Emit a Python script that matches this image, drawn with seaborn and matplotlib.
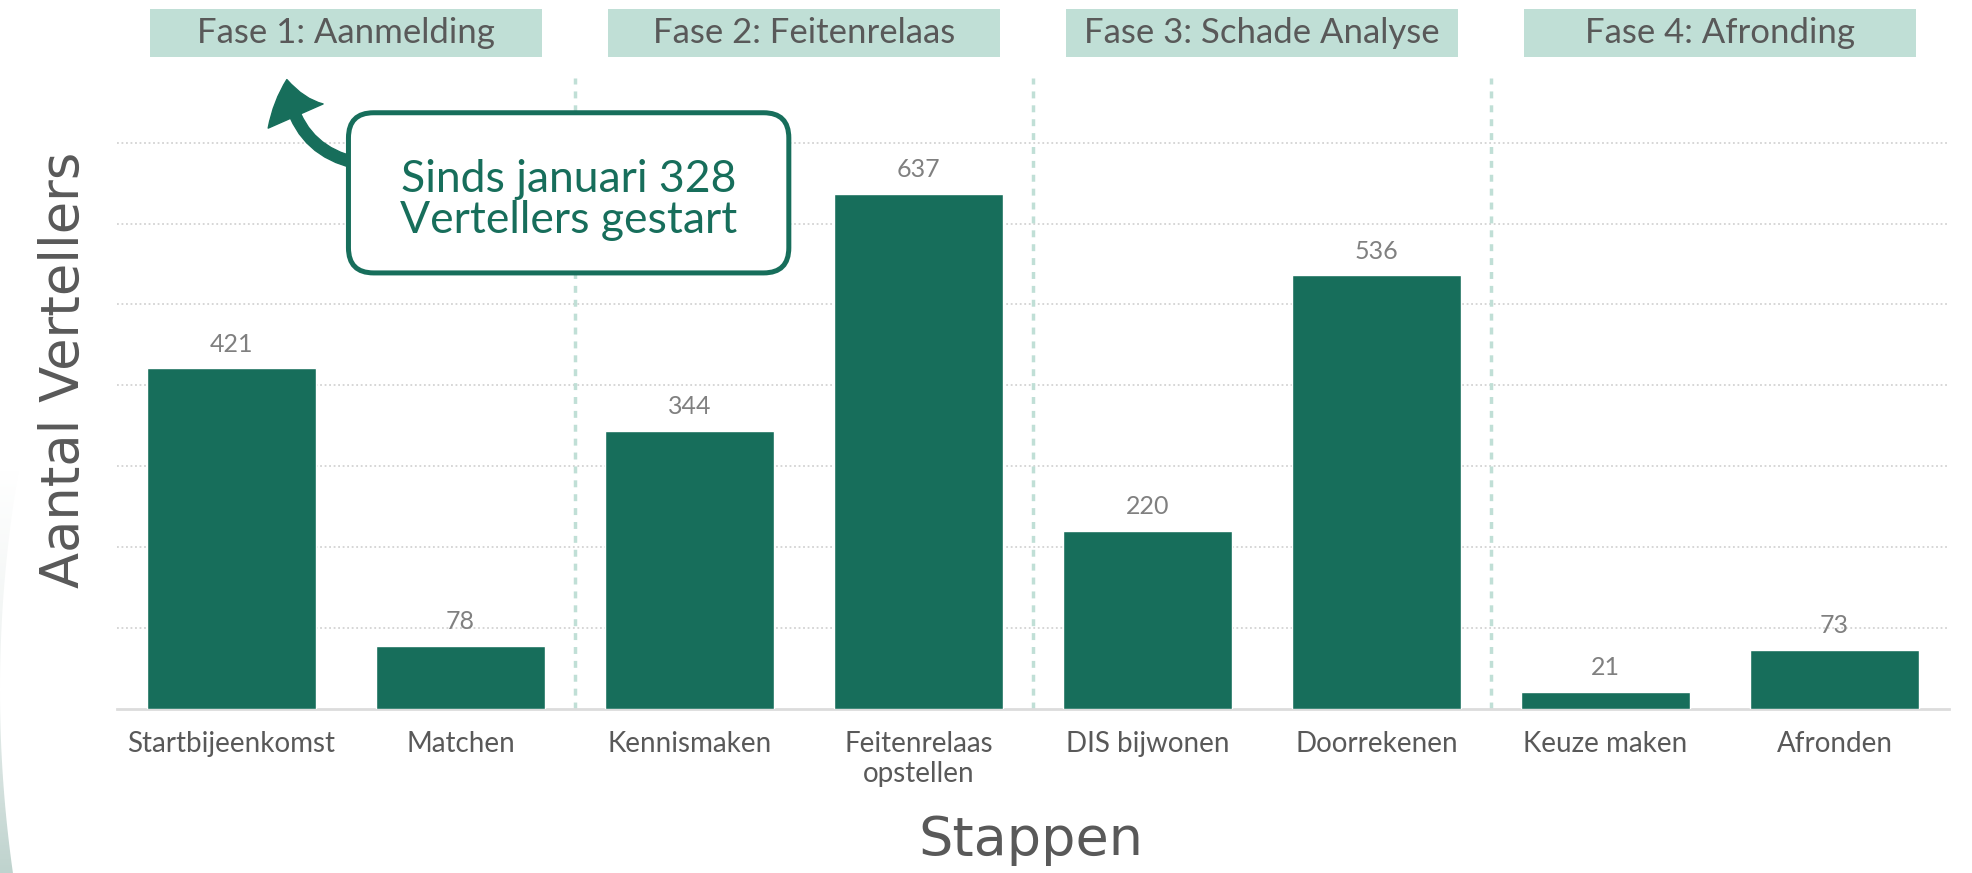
import numpy as np
import pandas as pd
import matplotlib
matplotlib.use('Agg')
import matplotlib.pyplot as plt
import seaborn as sns
from matplotlib.colors import LinearSegmentedColormap
from matplotlib.patches import FancyBboxPatch, FancyArrowPatch, Rectangle, Polygon

# data
stappen = ['Startbijeenkomst', 'Matchen', 'Kennismaken', 'Feitenrelaas\nopstellen',
           'DIS bijwonen', 'Doorrekenen', 'Keuze maken', 'Afronden']
aantal = [421, 78, 344, 637, 220, 536, 21, 73]
fases = ['Fase 1: Aanmelding', 'Fase 2: Feitenrelaas', 'Fase 3: Schade Analyse', 'Fase 4: Afronding']
stappen_per_fase = 2
y_ticks = [100, 200, 300, 400, 500, 600, 700]
opmerking = 'Sinds januari 328\nVertellers gestart'

groen = '#176e5b'
lichtgroen = '#c0dfd6'
grijs = '#595959'

sns.set_style('white')
plt.rcParams['font.family'] = ['Lato', 'DejaVu Sans']

df = pd.DataFrame({'stap': stappen, 'aantal': aantal})

fig = plt.figure(figsize=(19.72, 8.73), dpi=100)

# faint slide background arc at the left edge (pixel coordinates)
bg = fig.add_axes([0, 0, 1, 1], zorder=-1)
bg.set_xlim(0, 1972)
bg.set_ylim(873, 0)
bg.axis('off')
yy = np.linspace(470, 873, 80)
R, cy = 1300, 690
xx = R - np.sqrt(R**2 - (yy - cy)**2)
rand = Polygon(np.vstack([np.column_stack([xx, yy]), [[0, 873], [0, 470]]]), closed=True,
               fc='none', ec='none', transform=bg.transData)
bg.add_patch(rand)
cmap = LinearSegmentedColormap.from_list('bg', ['#ffffff', '#eef2f1', '#bfd3ce'])
img = bg.imshow(np.linspace(0, 1, 200).reshape(-1, 1), cmap=cmap, aspect='auto',
                extent=[0, 40, 873, 470])
img.set_clip_path(rand)

ax = fig.add_axes([0.0593, 0.1879, 0.9290, 0.7228])
sns.barplot(data=df, x='stap', y='aantal', color=groen, saturation=1, width=0.74, ax=ax, zorder=3)
ax.bar_label(ax.containers[0], padding=9, color='#808080', fontsize=18)

ax.set_xlim(-0.5, len(stappen) - 0.5)
ax.set_ylim(0, 780)
ax.set_yticks(y_ticks)
ax.set_yticklabels([])
ax.set_axisbelow(True)
ax.yaxis.grid(True, linestyle=(0, (1, 1.5)), color='#d3d3d3', lw=1.3)
ax.xaxis.grid(False)
for s in ['top', 'right', 'left']:
    ax.spines[s].set_visible(False)
ax.spines['bottom'].set_color('#dcdcdc')
ax.spines['bottom'].set_linewidth(2)
ax.tick_params(axis='y', length=0)
ax.tick_params(axis='x', length=0, pad=16, labelsize=20, labelcolor=grijs)

ax.set_xlabel('Stappen', fontsize=39, color=grijs, family='DejaVu Sans', va='center')
ax.xaxis.set_label_coords(0.499, -0.2076)
ax.set_ylabel('Aantal Vertellers', fontsize=38, color=grijs, family='DejaVu Sans', va='center')
ax.yaxis.set_label_coords(-0.029, 0.537)

# phase separators and headers
for i, fase in enumerate(fases):
    midden = i * stappen_per_fase + (stappen_per_fase - 1) / 2
    ax.add_patch(Rectangle((midden - 0.857, 806), 1.714, 59.5, fc=lichtgroen, ec='none',
                           clip_on=False, zorder=2))
    ax.text(midden, 835.5, fase, ha='center', va='center', fontsize=25, color=grijs, clip_on=False)
    if i > 0:
        ax.axvline(i * stappen_per_fase - 0.5, ymin=0, ymax=1, color=lichtgroen, lw=2.5,
                   linestyle=(0, (2, 2)), zorder=1)

# callout
ax.add_patch(FancyArrowPatch((0.6, 672), (0.242, 778), connectionstyle='arc3,rad=-0.4',
                             arrowstyle='simple,head_width=2.4,head_length=1.5,tail_width=0.45',
                             mutation_scale=18, color=groen, shrinkA=0, shrinkB=0,
                             clip_on=False, zorder=5))
ax.add_patch(FancyBboxPatch((0.511, 539), 1.923, 198, boxstyle='round,pad=0,rounding_size=0.11',
                            mutation_aspect=283, fc='white', ec=groen, lw=3.6, zorder=6))
ax.text(1.4725, 629, opmerking, ha='center', va='center', fontsize=32, color=groen,
        linespacing=1.0, zorder=7)

fig.savefig('out.png', dpi=100)
